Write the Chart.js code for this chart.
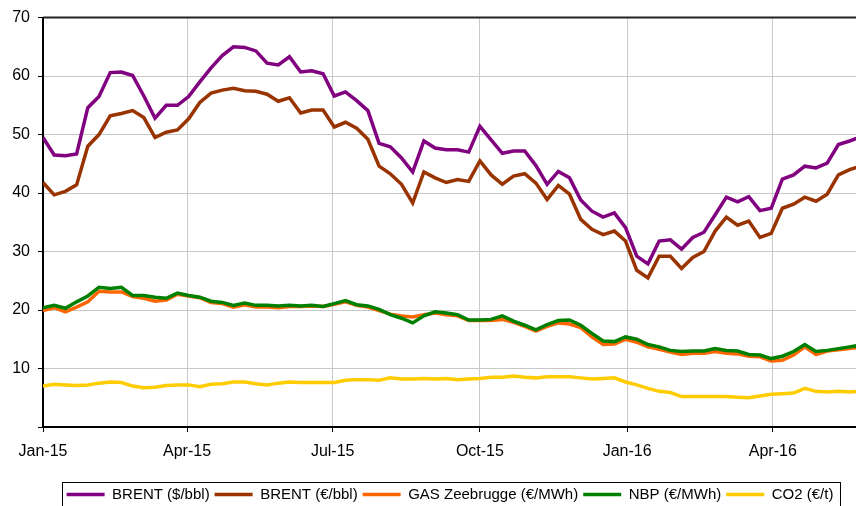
<!DOCTYPE html>
<html>
<head>
<meta charset="utf-8">
<script src="https://cdn.jsdelivr.net/npm/chart.js@4.4.0/dist/chart.umd.min.js"></script>
<style>
  html, body { margin: 0; padding: 0; background: #fff; }
  #wrap { width: 856px; height: 506px; }
</style>
</head>
<body>
<div id="wrap"><canvas id="chart" width="856" height="506"></canvas></div>
<script>
// weekly observations, Jan-15 onwards (last one is cut off by the plot edge)
const brentUsd = [49.5, 46.5, 46.4, 46.7, 54.6, 56.5, 60.6, 60.7, 60.1, 56.6, 52.8, 55.0, 55.0, 56.5, 59.0, 61.4, 63.5, 65.0, 64.9, 64.3,
    62.2, 61.9, 63.3, 60.7, 60.9, 60.4, 56.6, 57.3, 55.8, 54.1, 48.5, 47.9, 46.0, 43.6, 48.9, 47.7, 47.4, 47.4, 47.0, 51.4,
    49.1, 46.8, 47.2, 47.2, 44.7, 41.5, 43.7, 42.6, 38.8, 36.9, 35.9, 36.6, 34.1, 29.2, 27.9, 31.8, 32.0, 30.4, 32.4, 33.3,
    36.3, 39.3, 38.5, 39.4, 37.0, 37.4, 42.4, 43.1, 44.6, 44.3, 45.1, 48.3, 48.9, 49.6];
const brentEur = [41.8, 39.7, 40.3, 41.4, 48.0, 50.0, 53.2, 53.6, 54.1, 52.9, 49.5, 50.4, 50.8, 52.7, 55.5, 57.1, 57.6, 57.9, 57.5, 57.4,
    56.9, 55.7, 56.3, 53.7, 54.2, 54.2, 51.3, 52.1, 51.1, 49.2, 44.6, 43.3, 41.5, 38.3, 43.6, 42.6, 41.8, 42.3, 42.0, 45.5,
    43.1, 41.5, 42.9, 43.3, 41.7, 38.9, 41.3, 39.8, 35.5, 33.8, 32.9, 33.5, 31.8, 26.8, 25.5, 29.2, 29.2, 27.1, 29.0, 30.0,
    33.5, 35.9, 34.5, 35.2, 32.4, 33.1, 37.4, 38.1, 39.3, 38.6, 39.8, 43.1, 44.0, 44.6];
const gasZee = [19.9, 20.4, 19.7, 20.5, 21.4, 23.2, 23.1, 23.1, 22.3, 22.0, 21.5, 21.7, 22.7, 22.4, 22.1, 21.3, 21.1, 20.5, 20.9, 20.5,
    20.5, 20.4, 20.6, 20.6, 20.7, 20.6, 21.0, 21.4, 20.8, 20.5, 19.9, 19.3, 19.0, 18.8, 19.2, 19.5, 19.2, 19.0, 18.2, 18.2,
    18.2, 18.4, 17.9, 17.2, 16.4, 17.2, 17.8, 17.6, 17.0, 15.4, 14.1, 14.2, 15.0, 14.5, 13.7, 13.3, 12.8, 12.4, 12.6, 12.6,
    12.9, 12.6, 12.5, 12.1, 12.0, 11.3, 11.4, 12.3, 13.7, 12.4, 13.0, 13.2, 13.4, 13.7];
const nbp = [20.4, 20.8, 20.3, 21.4, 22.4, 23.9, 23.7, 23.9, 22.5, 22.5, 22.2, 22.0, 22.9, 22.5, 22.2, 21.5, 21.3, 20.8, 21.2, 20.8,
    20.8, 20.7, 20.8, 20.7, 20.8, 20.6, 21.1, 21.6, 20.9, 20.7, 20.1, 19.2, 18.6, 17.8, 19.0, 19.7, 19.5, 19.2, 18.3, 18.3,
    18.4, 19.0, 18.1, 17.4, 16.6, 17.5, 18.2, 18.3, 17.4, 16.0, 14.7, 14.6, 15.4, 15.0, 14.1, 13.7, 13.1, 12.9, 13.0, 13.0,
    13.4, 13.1, 13.0, 12.4, 12.3, 11.7, 12.1, 12.9, 14.1, 12.9, 13.1, 13.4, 13.7, 14.0];
const co2 = [7.0, 7.3, 7.2, 7.1, 7.2, 7.5, 7.7, 7.6, 7.0, 6.7, 6.8, 7.1, 7.2, 7.2, 6.9, 7.3, 7.4, 7.7, 7.7, 7.4,
    7.2, 7.5, 7.7, 7.6, 7.6, 7.6, 7.6, 8.0, 8.1, 8.1, 8.0, 8.4, 8.2, 8.2, 8.3, 8.2, 8.3, 8.1, 8.2, 8.3,
    8.5, 8.5, 8.7, 8.5, 8.4, 8.6, 8.6, 8.6, 8.4, 8.2, 8.3, 8.4, 7.7, 7.2, 6.6, 6.1, 5.9, 5.2, 5.2, 5.2,
    5.2, 5.2, 5.1, 5.0, 5.3, 5.6, 5.7, 5.8, 6.6, 6.1, 6.0, 6.1, 6.0, 6.1];

// quarter ticks, in days since 1 Jan 2015
const tickDays = [0, 90, 181, 273, 365, 456];
const tickLabels = ['Jan-15', 'Apr-15', 'Jul-15', 'Oct-15', 'Jan-16', 'Apr-16'];
const seriesNames = ['BRENT ($/bbl)', 'BRENT (€/bbl)', 'GAS Zeebrugge (€/MWh)', 'NBP (€/MWh)', 'CO2 (€/t)'];
const seriesColors = ['#800080', '#993300', '#FF6600', '#008000', '#FFCC00'];

const toPoints = (values) => values.map((v, i) => ({ x: i * 7, y: v }));
const allSeries = [brentUsd, brentEur, gasZee, nbp, co2];

const framePlugin = {
    id: 'frame',
    afterLayout(chart) {
        // the original legend sits a little lower and to the right
        chart.legend.top += 6;
        chart.legend.bottom += 6;
        chart.legend.left += 22;
        chart.legend.right += 22;
    },
    afterDraw(chart) {
        const { ctx, chartArea } = chart;
        ctx.save();
        // top border of the plot
        ctx.strokeStyle = '#222';
        ctx.lineWidth = 2;
        ctx.beginPath();
        ctx.moveTo(chartArea.left, chartArea.top);
        ctx.lineTo(chartArea.right, chartArea.top);
        ctx.stroke();
        // box round the legend
        const boxes = chart.legend.legendHitBoxes;
        if (boxes && boxes.length) {
            const left = Math.min(...boxes.map(b => b.left)) - 5;
            const right = Math.max(...boxes.map(b => b.left + b.width)) + 6;
            ctx.strokeStyle = '#000';
            ctx.lineWidth = 1;
            ctx.strokeRect(Math.round(left) + 0.5, 482.5, Math.round(right - left), 40);
        }
        ctx.restore();
    }
};

new Chart(document.getElementById('chart'), {
    type: 'line',
    data: {
        datasets: allSeries.map((values, i) => ({
            label: seriesNames[i],
            data: toPoints(values),
            borderColor: seriesColors[i],
            backgroundColor: seriesColors[i],
            borderWidth: 3.5,
            pointRadius: 0,
            tension: 0,
            fill: false,
            order: 5 - i, // later series painted on top
        })),
    },
    options: {
        responsive: false,
        animation: false,
        devicePixelRatio: 1,
        layout: { padding: { top: 16, right: 0, left: 0, bottom: 0 } },
        scales: {
            x: {
                type: 'linear',
                min: 0,
                max: 508,
                afterBuildTicks: (scale) => {
                    scale.ticks = tickDays.map(v => ({ value: v }));
                },
                afterFit: (scale) => { scale.height = 49; },
                ticks: {
                    autoSkip: false,
                    maxRotation: 0,
                    padding: 10,
                    color: '#000',
                    font: { family: '"Liberation Sans", Arial, sans-serif', size: 16 },
                    callback: (value, index) => tickLabels[index],
                },
                grid: { color: '#c8c8c8', lineWidth: 1, tickLength: 5, tickColor: '#000' },
                border: { color: '#000', width: 2 },
            },
            y: {
                min: 0,
                max: 70,
                afterFit: (scale) => { scale.width = 43; },
                ticks: {
                    stepSize: 10,
                    padding: 8,
                    color: '#000',
                    font: { family: '"Liberation Sans", Arial, sans-serif', size: 16 },
                    callback: (value) => (value === 0 ? '' : value),
                },
                grid: { color: '#c8c8c8', lineWidth: 1, tickLength: 5, tickColor: '#000' },
                border: { color: '#000', width: 2 },
            },
        },
        plugins: {
            legend: {
                position: 'bottom',
                labels: {
                    usePointStyle: true,
                    pointStyle: 'line',
                    pointStyleWidth: 38,
                    padding: 5,
                    color: '#000',
                    font: { family: '"Liberation Sans", Arial, sans-serif', size: 15 },
                    sort: (a, b) => a.datasetIndex - b.datasetIndex,
                },
            },
            tooltip: { enabled: false },
        },
    },
    plugins: [framePlugin],
});
</script>
</body>
</html>
